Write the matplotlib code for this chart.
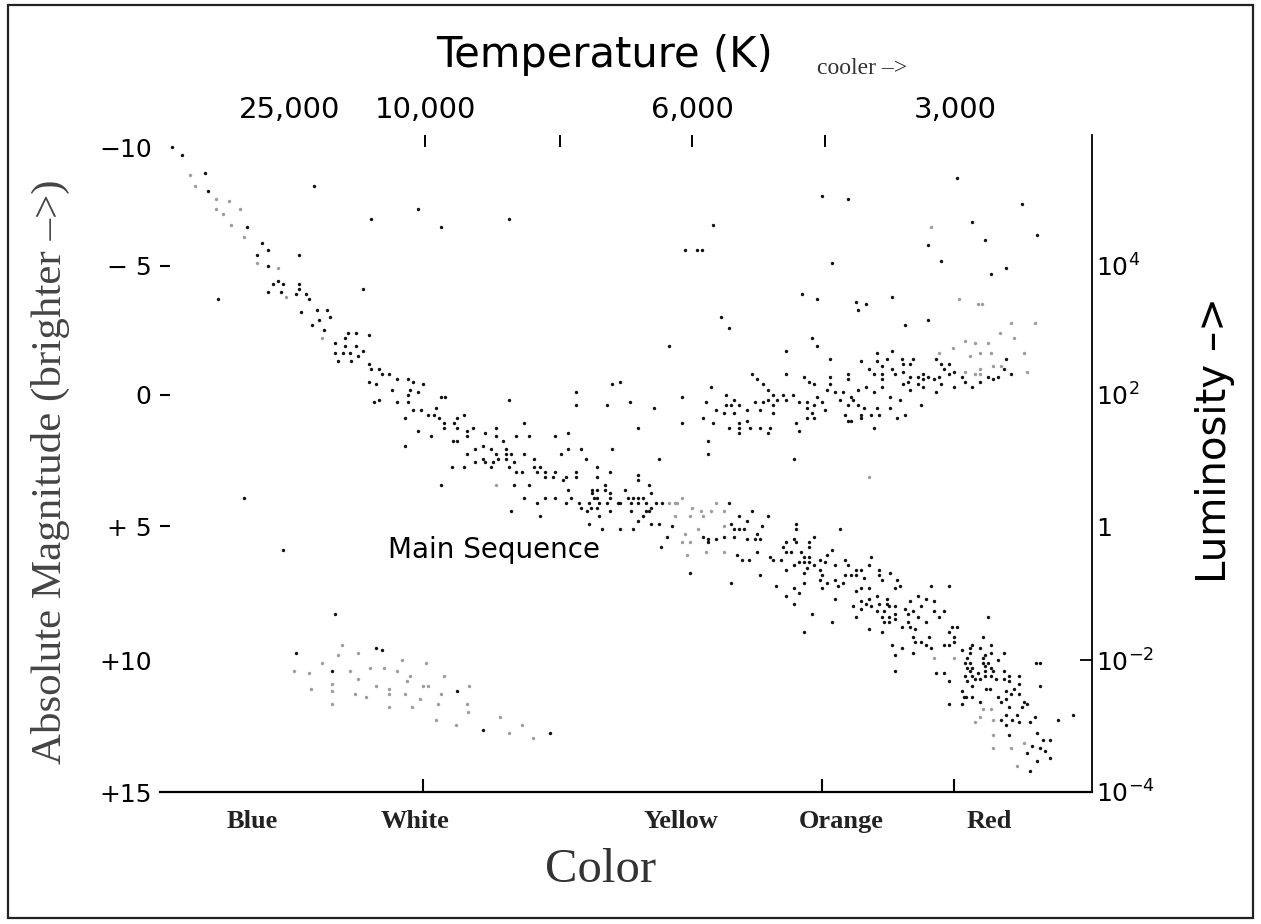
import matplotlib
matplotlib.use("Agg")
import matplotlib.pyplot as plt
from matplotlib.patches import Rectangle

# ── data (color position along the bottom scale, absolute magnitude) ──────────

# supergiants + upper main sequence, dark dots
upper_ms_x = [12, 22, 45, 48, 87, 154, 211, 258, 281, 102, 108, 97, 139, 108, 58,
              113, 118, 123, 139, 139, 108, 121, 136, 146, 149, 203, 141, 157, 167,
              159, 170, 152, 164, 188, 196, 185, 209, 175, 185, 196, 203, 175, 183,
              190, 198]
upper_ms_mag = [-10.0, -9.7, -9.0, -8.3, -6.9, -8.5, -7.2, -7.6, -6.9, -6.3, -6.0, -5.8,
                -5.8, -5.4, -4.1, -4.7, -4.8, -4.7, -4.7, -4.5, -4.4, -4.4, -4.3, -4.3,
                -4.1, -4.5, -3.6, -3.7, -3.7, -3.3, -3.4, -3.1, -2.9, -2.8, -2.8, -2.6,
                -2.7, -2.4, -2.3, -2.3, -2.1, -2.0, -2.0, -2.0, -1.9]

# middle of the main sequence
mid_ms_x = [178, 191, 209, 211, 219, 222, 229, 209, 216, 237, 248, 253, 263, 232, 250,
            248, 258, 281, 285, 214, 219, 237, 248, 253, 261, 276, 245, 268, 274, 279,
            304, 284, 294, 297, 284, 297, 307, 307, 258, 271, 293, 297, 245, 307, 292,
            304, 281, 84, 123,
            349, 313, 364, 325, 336, 336, 356, 369, 395, 408, 343, 323, 315, 331, 336,
            346, 346, 351, 364, 401, 408, 421, 452, 323, 338, 346, 315, 325, 333, 354,
            349, 331, 374, 426, 499, 362, 356, 374, 380, 377, 385, 395, 385, 393, 406,
            416, 416, 437, 437, 450, 403, 478, 478, 369, 354, 408, 432, 437, 445, 489,
            364, 385, 395, 406, 411, 419, 432, 437, 445, 450, 465, 491, 377, 421, 429,
            434, 439, 447, 450, 458, 460, 468, 473, 478, 483, 471, 478, 486, 491, 496,
            502, 431, 437, 427, 439, 450, 471, 486, 489, 483, 478, 380, 351, 429, 442,
            460, 473, 491, 499, 452, 460, 416, 416, 447, 470, 494, 478]
mid_ms_mag = [-1.7, -1.7, -1.6, -1.4, -1.4, -1.2, -1.2, -0.9, -0.8, -1.0, -1.0, -0.9,
              -0.8, -0.6, -0.6, -0.4, -0.5, -0.3, -0.3, -0.1, -0.2, -0.1, -0.1, 0.2,
              0.2, 0.1, 0.5, 0.4, 0.4, 0.5, 0.4, 0.7, 0.7, 0.5, 0.9, 0.9, 1.0, 1.2,
              1.0, 1.2, 1.4, 1.4, 1.6, 1.9, 2.4, 2.4, 3.1, 3.6, 5.6,
              -0.2, 0.9, 0.7, 1.1, 0.9, 1.2, 1.2, 1.2, 1.2, 1.1, 1.4, 1.6, 1.7, 1.7,
              1.9, 1.7, 1.9, 1.9, 1.9, 1.9, 1.7, 1.7, 1.7, 2.1, 2.1, 2.1, 2.2, 2.2,
              2.2, 2.2, 2.4, 2.4, 2.1, 2.1, 2.1, 2.6, 2.6, 2.4, 2.4, 2.6, 2.6, 2.6,
              2.8, 2.8, 2.8, 2.6, 2.8, 2.4, 2.8, 2.6, 2.9, 2.7, 2.9, 3.1, 3.1, 3.3,
              3.3, 3.3, 3.1, 3.1, 3.6, 3.6, 3.6, 3.8, 3.6, 3.8, 3.4, 3.6, 3.3, 3.4,
              3.3, 3.4, 3.8, 4.0, 3.8, 3.6, 3.8, 3.8, 3.6, 3.8, 3.8, 3.6, 3.6, 3.6,
              3.6, 3.8, 3.8, 3.8, 4.0, 3.8, 3.8, 4.0, 4.0, 4.1, 4.3, 4.1, 4.1, 4.1,
              4.1, 4.3, 4.5, 4.3, 4.1, 4.6, 4.8, 4.8, 4.8, 4.6, 4.6, -0.8, -0.9,
              -0.5, 0.0, 0.0, -0.1, 0.1, 0.9]

# lower main sequence (orange / red dwarfs)
low_ms_x = [569, 512, 507, 543, 548, 548, 556, 564, 571, 574, 579, 584, 587, 592, 602,
            608, 579, 574, 587, 595, 597, 600, 597, 577, 582, 589, 610, 613, 501, 530,
            600, 634,
            636, 636, 680, 654, 634, 626, 636, 649, 623, 649, 672, 626, 631, 641, 667,
            644, 649, 711, 660, 685, 665, 621, 634, 639, 644, 649, 654, 675, 688, 709,
            647, 626, 660, 696, 701, 719, 644, 662, 685, 691, 696, 719, 730, 704, 660,
            675, 722, 737, 571, 616,
            626, 634, 639, 644, 634, 652, 644, 662, 667, 678, 683, 675, 672, 696, 701,
            709, 693, 701, 701, 696, 706, 709, 711, 717, 719, 717, 722, 724, 724, 727,
            729, 727, 729, 729, 735, 735, 735, 722, 709, 735, 740, 771, 789, 745, 748,
            750, 753, 748, 750, 755, 742, 758, 761, 758, 766, 766, 774, 774, 779, 784,
            753, 755, 761, 766, 769, 771, 732, 742, 735, 753, 735, 784, 789, 794, 794,
            789, 792, 797, 776, 784, 789, 789, 802, 802, 802, 805, 805, 804, 806, 807,
            807, 807, 810, 810, 810, 810, 812, 812, 812, 812, 812, 815, 818, 820, 820,
            820, 823, 823, 823, 825, 825, 825, 825, 828, 826, 830, 831, 831, 831, 831,
            833, 836, 838, 838, 828, 841, 844, 844, 844, 846, 846, 849, 849, 849, 851,
            854, 859, 859, 859, 864, 867, 862, 841, 846, 846, 852, 857, 859, 870, 875,
            849, 877, 872, 867, 877, 880, 885, 883, 890, 890, 870, 898, 913, 876, 880,
            880]
low_ms_mag = [3.8, 4.7, 5.1, 5.1, 5.2, 5.3, 5.2, 5.1, 4.6, 4.8, 4.3, 4.8, 4.5, 4.1,
              4.7, 4.3, 4.8, 5.1, 5.2, 5.2, 5.0, 5.2, 5.7, 5.8, 6.0, 6.0, 5.9, 6.0,
              5.5, 6.5, 6.6, 2.1,
              4.6, 4.8, 4.8, 5.1, 5.2, 5.3, 5.3, 5.3, 5.5, 5.5, 5.6, 5.7, 5.7, 5.7,
              5.8, 5.9, 5.9, 5.9, 6.0, 6.0, 6.1, 6.0, 6.2, 6.1, 6.1, 6.1, 6.2, 6.2,
              6.2, 6.2, 6.3, 6.4, 6.4, 6.4, 6.4, 6.4, 6.5, 6.6, 6.6, 6.6, 6.6, 6.6,
              6.5, 6.7, 6.8, 6.8, 6.8, 6.8, 6.9, 7.0,
              7.4, 7.1, 7.3, 6.9, 7.7, 8.1, 8.8, 7.1, 6.9, 7.0, 6.9, 7.5, 8.4, 7.2,
              7.1, 7.1, 7.8, 7.6, 7.9, 8.2, 7.7, 7.5, 7.8, 7.4, 7.7, 8.0, 8.2, 8.0,
              8.4, 7.5, 7.8, 7.7, 8.2, 8.4, 7.8, 8.1, 8.3, 8.8, 8.7, 7.1, 7.0, 7.0,
              7.0, 7.9, 8.1, 7.6, 8.0, 8.4, 8.6, 8.7, 8.6, 7.4, 7.8, 8.2, 7.5, 8.4,
              7.6, 8.0, 8.2, 8.0, 9.0, 9.2, 9.2, 9.3, 9.0, 9.4, 9.3, 9.4, 9.7, 9.6,
              10.3, 9.3, 9.3, 9.2, 9.0, 8.8, 8.6, 8.6, 10.4, 10.4, 10.7, 11.6, 9.5,
              11.1, 11.6, 10.0, 10.5, 11.3, 11.3, 9.8, 10.2, 10.7, 9.4, 9.6, 10.0,
              10.3, 9.3, 10.2, 10.5, 10.9, 11.3, 10.6, 10.4, 9.4, 10.6, 11.5, 9.0,
              9.8, 10.0, 10.1, 10.3, 10.5, 9.7, 10.0, 11.0, 11.0, 9.3, 9.6, 10.2,
              10.5, 10.3, 10.6, 9.9, 11.3, 8.2, 11.5, 9.6, 10.3, 10.6, 11.1, 11.4,
              10.5, 10.7, 11.7, 11.2, 11.0, 10.5, 10.8, 11.2, 11.5, 11.6, 11.7, 12.2,
              12.0, 12.4, 12.2, 12.0, 12.3, 12.3, 12.1, 12.8, 12.7, 13.2, 13.5, 13.8,
              13.3, 13.4, 13.0, 13.0, 13.7, 14.2, 12.2, 12.0, 10.0, 10.0, 10.9]

# giants and bright scattered stars, dark dots
giant_x = [349, 553, 525, 537, 542, 561, 569, 509,
           797, 662, 688, 862, 812, 825, 877, 768, 781, 672, 831, 846, 642, 657, 696,
           706, 698, 732, 745, 768, 652, 657, 626, 717, 732, 670, 727, 742, 753, 776,
           846,
           592, 597, 603, 608, 613, 608, 617, 603, 595, 613, 600, 613, 551, 566, 574,
           546, 566, 571, 579, 556, 564, 574, 587, 587, 543, 553, 569, 579, 579, 579,
           590, 600, 610, 608, 548, 548, 522, 522,
           626, 644, 649, 654, 670, 670, 667, 675, 683, 688, 688, 701, 709, 714, 717,
           722, 722, 722, 722, 732, 735, 743, 743, 750, 743, 748, 750, 750, 758, 758,
           763, 763, 763, 768, 774, 779, 781, 776, 781, 784, 789, 789, 794, 794, 802,
           805, 812, 820, 828, 833, 838, 844, 851,
           623, 633, 626, 639, 647, 647, 654, 657, 662, 665, 652, 647, 654, 636, 639,
           680, 691, 693, 688, 698, 698, 704, 706, 714, 717, 730, 730, 740, 761, 685,
           688, 691, 701, 701, 711, 719, 714, 737, 745]
giant_mag = [-7.2, -7.0, -6.0, -6.0, -6.0, -3.4, -3.0, -2.3,
             -8.8, -8.1, -8.0, -7.8, -7.1, -6.4, -6.6, -6.2, -5.6, -5.5, -5.1, -5.3,
             -4.3, -4.1, -4.0, -3.9, -3.7, -4.2, -3.1, -3.3, -2.6, -2.3, -2.1, -2.0,
             -2.1, -1.8, -1.8, -1.8, -1.8, -1.8, -1.8,
             -1.2, -1.0, -0.8, -0.6, -0.4, -0.2, -0.2, -0.1, -0.1, 0.0, 0.2, 0.3,
             -0.7, -0.4, -0.2, -0.1, 0.0, 0.0, 0.0, 0.2, 0.3, 0.3, 0.2, 0.6, 0.5,
             0.7, 0.9, 0.7, 0.9, 1.1, 0.9, 0.9, 0.9, 1.1, 1.4, 1.9, -0.3, 0.7,
             -1.2, -1.1, -0.9, -0.8, -1.1, -0.8, -0.6, -0.5, -0.5, -1.2, -1.0, -1.7,
             -1.4, -1.2, -1.7, -1.5, -1.2, -1.0, -0.7, -1.4, -1.2, -1.6, -1.3, -1.6,
             -0.8, -0.9, -1.1, -0.6, -1.1, -0.8, -1.2, -1.0, -0.7, -1.1, -1.0, -1.1,
             -0.8, -0.5, -1.6, -1.4, -1.6, -1.2, -1.3, -0.7, -1.1, -0.9, -0.7, -0.9,
             -1.1, -1.0, -1.1, -1.4, -1.2,
             -0.4, -0.4, -0.2, -0.1, -0.1, 0.1, 0.0, -0.3, -0.1, 0.2, 0.3, 0.5, 0.5,
             0.7, 1.0, -0.2, -0.3, -0.2, 0.0, -0.6, 0.0, 0.1, -0.7, -0.5, 0.1, -0.3,
             0.1, -0.2, 0.0, 0.4, 0.6, 0.6, 0.4, 0.5, 0.4, 0.4, 0.9, 0.5, 0.4]

# white dwarf corner, dark dots
wd_x = [175, 136, 216, 222, 172, 297, 323, 390]
wd_mag = [8.1, 9.6, 9.4, 9.5, 10.3, 11.1, 12.6, 12.7]

# faint (grey) dots
faint_x = [30, 35, 56, 69, 56, 63, 80, 71, 84, 97, 118, 126, 162,
           771, 799, 818, 822, 851, 875, 840, 854, 805, 815, 828, 793, 779, 810, 820,
           831, 864,
           336, 509, 515, 517, 522, 515, 530, 532, 541, 543, 551, 556, 564, 564, 538,
           525, 522, 530, 527, 546, 564,
           805, 815, 820, 820, 833, 841, 867, 709,
           774, 794, 815, 820, 831, 833, 833, 833, 851, 864, 857, 823,
           182, 178, 198, 242, 266, 162, 134, 149, 190, 210, 224, 237, 250, 247, 198,
           284, 151, 172, 172, 195, 206, 216, 229, 229, 245, 263, 268, 281, 260, 309,
           172, 229, 252, 278, 307, 308, 276, 296, 340, 362, 349, 373]
faint_mag = [-8.9, -8.5, -8.0, -7.9, -7.6, -7.4, -7.6, -7.0, -6.5, -5.5, -5.3, -4.2,
             -2.6,
             -6.9, -4.1, -3.9, -3.9, -3.2, -3.2, -2.8, -2.6, -2.5, -2.4, -2.4, -2.2,
             -2.0, -1.9, -2.0, -2.0, -2.0,
             3.1, 3.8, 3.8, 3.8, 3.6, 4.3, 4.3, 4.0, 4.1, 4.3, 4.1, 3.8, 4.1, 4.7,
             4.8, 5.0, 5.3, 5.3, 5.8, 5.7, 5.7,
             -1.3, -1.2, -1.4, -1.2, -1.5, -1.5, -1.3, 2.8,
             9.8, 9.8, 12.3, 12.1, 11.8, 12.2, 12.8, 13.3, 13.3, 13.1, 14.0, 11.8,
             9.3, 9.7, 9.6, 9.9, 10.0, 10.0, 10.3, 10.4, 10.3, 10.2, 10.2, 10.3, 10.5,
             10.7, 10.6, 10.5, 11.0, 10.8, 11.1, 11.2, 11.3, 10.9, 11.0, 11.2, 11.2,
             10.9, 10.9, 11.2, 11.4, 10.9, 11.6, 11.7, 11.7, 11.6, 11.6, 11.9, 12.2,
             12.4, 12.1, 12.4, 12.7, 12.9]

# axis labelling
mag_ticks = [-10.0, -5.4, -0.4, 4.7, 9.9, 15.0]
mag_labels = ["\u221210", "\u2212 5", "0", "+ 5", "+10", "+15"]
lum_ticks = [-5.4, -0.4, 4.7, 9.9, 15.0]
lum_labels = [r"$\mathregular{10^{4}}$", r"$\mathregular{10^{2}}$", "1",
              r"$\mathregular{10^{-2}}$", r"$\mathregular{10^{-4}}$"]
temp_label_pos = [130, 265, 532, 795]
temp_labels = ["25,000", "10,000", "6,000", "3,000"]
temp_tick_pos = [265, 400, 532, 665]
color_label_pos = [92, 255, 521, 681, 829]
color_labels = ["Blue", "White", "Yellow", "Orange", "Red"]
color_tick_pos = [263, 662, 794]

# ── figure ────────────────────────────────────────────────────────────────────

W, H = 1261, 924
fig = plt.figure(figsize=(W / 100, H / 100), dpi=100)
fig.patch.set_facecolor("white")
fig.patches.append(Rectangle((8 / W, 6 / H), 1245 / W, 913 / H, transform=fig.transFigure,
                             fill=False, edgecolor="#222222", linewidth=1.6))

ax = fig.add_axes([160 / W, 132 / H, 932 / W, 657 / H])
ax.set_xlim(0, 932)
ax.set_ylim(15.0, -10.47)

dot = dict(s=6, linewidths=0, marker="o")
for xs, ms in [(upper_ms_x, upper_ms_mag), (mid_ms_x, mid_ms_mag),
               (low_ms_x, low_ms_mag), (giant_x, giant_mag), (wd_x, wd_mag)]:
    ax.scatter(xs, ms, color="#111111", **dot)
ax.scatter(faint_x, faint_mag, color="#9c9c9c", **dot)

for side in ("left", "top", "right"):
    ax.spines[side].set_visible(False)
ax.spines["bottom"].set_linewidth(1.6)

sans = "DejaVu Sans"
serif = "Liberation Serif"

# left magnitude scale (dash marks share positions with the labels)
ax.yaxis.remove_overlapping_locs = False
ax.set_yticks(mag_ticks)
ax.set_yticklabels(mag_labels, fontsize=18, family=sans)
ax.set_yticks([-5.4, -0.4, 4.7], minor=True)
ax.tick_params(axis="y", which="major", length=0, pad=6)
ax.tick_params(axis="y", which="minor", direction="in", length=7, width=1.5)

# bottom color scale
ax.set_xticks(color_label_pos)
ax.set_xticklabels(color_labels, fontsize=19, family=serif, fontweight="bold", color="#222222")
ax.set_xticks(color_tick_pos, minor=True)
ax.tick_params(axis="x", which="major", length=0, pad=13)
ax.tick_params(axis="x", which="minor", direction="in", length=9.5, width=1.5)

# top temperature scale
ax_t = ax.twiny()
ax_t.set_xlim(ax.get_xlim())
ax_t.xaxis.remove_overlapping_locs = False
for s in ax_t.spines.values():
    s.set_visible(False)
ax_t.set_xticks(temp_label_pos)
ax_t.set_xticklabels(temp_labels, fontsize=21, family=sans)
ax_t.set_xticks(temp_tick_pos, minor=True)
ax_t.tick_params(axis="x", which="major", length=0, pad=8)
ax_t.tick_params(axis="x", which="minor", direction="in", length=8.5, width=1.4)

# right luminosity scale
ax_r = ax.twinx()
ax_r.set_ylim(ax.get_ylim())
ax_r.yaxis.remove_overlapping_locs = False
for side in ("left", "top", "bottom"):
    ax_r.spines[side].set_visible(False)
ax_r.spines["right"].set_linewidth(1.3)
ax_r.set_yticks(lum_ticks)
ax_r.set_yticklabels(lum_labels, fontsize=18, family=sans)
ax_r.set_yticks([9.9], minor=True)
ax_r.tick_params(axis="y", which="major", length=0, pad=3)
ax_r.tick_params(axis="y", which="minor", direction="in", length=8.5, width=1.3)

ax.text(228, 5.6, "Main Sequence", fontsize=20, family=sans, ha="left", va="center")

fig.text(604 / W, 1 - 55 / H, "Temperature (K)", fontsize=30, family=sans,
         ha="center", va="center")
fig.text(862 / W, 1 - 68 / H, "cooler \u2013>", fontsize=17, family=serif,
         ha="center", va="center", color="#333333")
fig.text(50 / W, 1 - 472 / H, "Absolute Magnitude (brighter \u2013>)", fontsize=31,
         family=serif, rotation=90, ha="center", va="center", color="#444444")
fig.text(1215 / W, 1 - 440 / H, "Luminosity \u2013>", fontsize=29, family=sans,
         rotation=90, ha="center", va="center")
fig.text(601 / W, 1 - 870 / H, "Color", fontsize=35, family=serif,
         ha="center", va="center", color="#333333")

fig.savefig("out.png", dpi=100)
